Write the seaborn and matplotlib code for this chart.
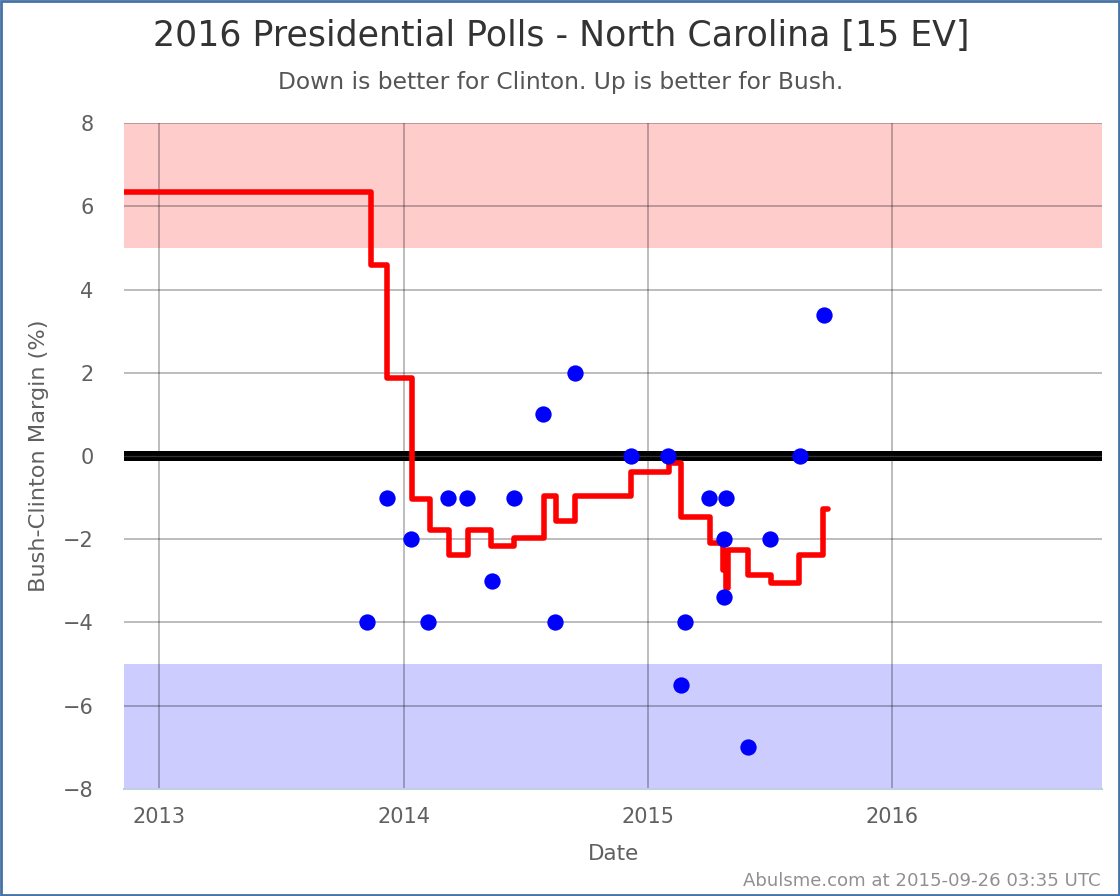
import pandas as pd
import seaborn as sns
import matplotlib.pyplot as plt
from matplotlib.patches import Rectangle

# polls, x in decimal years
poll_dates = [2013.85, 2013.93, 2014.03, 2014.10, 2014.18, 2014.26, 2014.36, 2014.45,
              2014.57, 2014.62, 2014.70, 2014.93, 2015.08, 2015.135, 2015.15, 2015.25,
              2015.31, 2015.31, 2015.32, 2015.41, 2015.50, 2015.62, 2015.72]
poll_margins = [-4, -1, -2, -4, -1, -1, -3, -1,
                1, -4, 2, 0, 0, -5.5, -4, -1,
                -2, -3.4, -1, -7, -2, 0, 3.4]

# running average
avg_dates = [2012.857, 2013.865, 2013.934, 2014.033, 2014.107, 2014.184, 2014.262, 2014.357,
             2014.451, 2014.574, 2014.623, 2014.701, 2014.930, 2015.086, 2015.135, 2015.254,
             2015.308, 2015.319, 2015.326, 2015.41, 2015.504, 2015.619, 2015.717, 2015.738]
avg_margins = [6.35, 4.6, 1.87, -1.03, -1.77, -2.37, -1.77, -2.17,
               -1.97, -0.97, -1.57, -0.97, -0.38, -0.17, -1.47, -2.1,
               -2.75, -3.17, -2.25, -2.85, -3.05, -2.37, -1.28, -1.28]

year_ticks = [2013, 2014, 2015, 2016]
margin_ticks = [-8, -6, -4, -2, 0, 2, 4, 6, 8]

W, H = 1118, 894  # pixel layout of the original


def main():
    sns.set_theme(style="white")
    plt.rcParams["font.family"] = ["DejaVu Sans"]
    fig = plt.figure(figsize=(11.2, 8.96), dpi=100)
    ax = fig.add_axes([124 / W, 1 - 787 / H, (1100 - 124) / W, (787 - 123) / H])

    ax.axhspan(5, 8, color="#FFCCCC", lw=0, zorder=0)
    ax.axhspan(-8, -5, color="#CCCCFF", lw=0, zorder=0)
    ax.axhline(0, color="black", lw=7.2, zorder=1)
    ax.axhline(0, color="#333333", lw=0.9, zorder=1.5)
    ax.grid(True, color="black", alpha=0.33, lw=1.1)
    ax.set_axisbelow(True)

    polls = pd.DataFrame({"date": poll_dates, "margin": poll_margins})
    avg = pd.DataFrame({"date": avg_dates, "margin": avg_margins})
    sns.lineplot(data=avg, x="date", y="margin", color="red", lw=4.0, estimator=None,
                 sort=False, drawstyle="steps-post", solid_capstyle="round",
                 solid_joinstyle="round", ax=ax, zorder=3)
    sns.scatterplot(data=polls, x="date", y="margin", color="#0000FF", s=138, linewidth=0,
                    ax=ax, zorder=4, clip_on=False)

    ax.set_xlim(2012.857, 2016.857)
    ax.set_ylim(-8, 8)
    ax.set_xticks(year_ticks)
    ax.set_xticklabels([str(y) for y in year_ticks])
    ax.set_yticks(margin_ticks)
    ax.tick_params(length=0, labelsize=15, labelcolor="#606060")
    ax.tick_params(axis="x", pad=13)
    ax.tick_params(axis="y", pad=22)
    for side in ["top", "left", "right"]:
        ax.spines[side].set_visible(False)
    ax.spines["bottom"].set_color("#C0D0E0")
    ax.spines["bottom"].set_linewidth(1.5)

    ax.set_xlabel("")
    ax.set_ylabel("")
    fig.text(612 / W, 1 - 852 / H, "Date", fontsize=15.5, color="#606060", ha="center", va="center")
    fig.text(39 / W, 1 - 455 / H, "Bush-Clinton Margin (%)", fontsize=16.2, color="#606060",
             rotation=90, ha="center", va="center")
    fig.text(560 / W, 1 - 36 / H, "2016 Presidential Polls - North Carolina [15 EV]",
             fontsize=25, color="#333333", ha="center", va="center")
    fig.text(560 / W, 1 - 82 / H, "Down is better for Clinton. Up is better for Bush.",
             fontsize=16.8, color="#555555", ha="center", va="center")
    fig.text(1099 / W, 1 - 879 / H, "Abulsme.com at 2015-09-26 03:35 UTC",
             fontsize=13.1, color="#909090", ha="right", va="center")

    # blue frame round the whole picture
    fig.add_artist(Rectangle((1 / W, 1 / H), 1 - 2 / W, 1 - 2 / H, transform=fig.transFigure,
                             fill=False, edgecolor="#4572A7", lw=2))
    fig.savefig("out.png", dpi=100)


if __name__ == "__main__":
    main()
